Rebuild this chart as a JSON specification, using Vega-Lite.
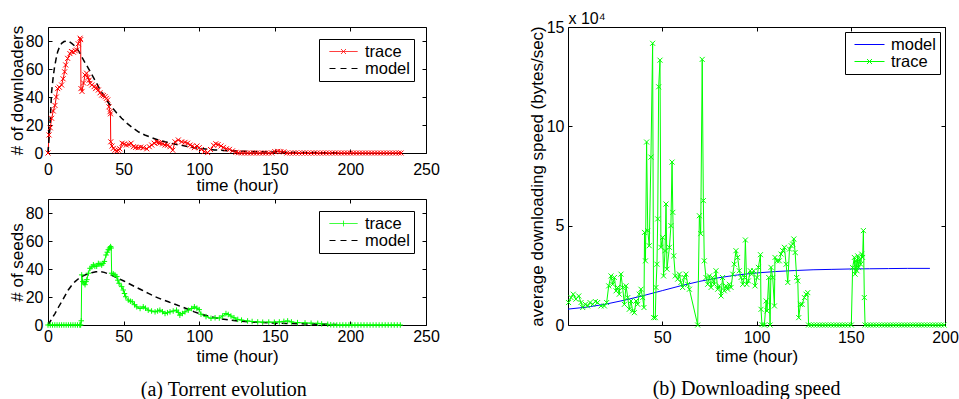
{
"$schema": "https://vega.github.io/schema/vega-lite/v6.json",
"background": "white",
"padding": {"left": 7, "top": 10, "right": 0, "bottom": 0},
"datasets": {
"down": [
{"t":0,"v":0,"s":"trace"},{"t":0.7,"v":12.9,"s":"trace"},{"t":1.5,"v":18,"s":"trace"},{"t":2.4,"v":24.8,"s":"trace"},{"t":3.5,"v":30,"s":"trace"},{"t":4.6,"v":34,"s":"trace"},{"t":5.5,"v":40,"s":"trace"},{"t":6.4,"v":46,"s":"trace"},{"t":7.5,"v":47,"s":"trace"},{"t":9,"v":48.6,"s":"trace"},{"t":10,"v":53,"s":"trace"},{"t":11,"v":58,"s":"trace"},{"t":11.7,"v":62.9,"s":"trace"},{"t":13,"v":67.6,"s":"trace"},{"t":14.5,"v":71,"s":"trace"},{"t":15.5,"v":72.5,"s":"trace"},{"t":16.8,"v":72,"s":"trace"},{"t":18,"v":73,"s":"trace"},{"t":19,"v":73.6,"s":"trace"},{"t":20,"v":78,"s":"trace"},{"t":21.2,"v":82,"s":"trace"},{"t":21.6,"v":81,"s":"trace"},{"t":21.8,"v":46,"s":"trace"},{"t":22.5,"v":44,"s":"trace"},{"t":23.5,"v":50,"s":"trace"},{"t":24.5,"v":55.7,"s":"trace"},{"t":25.5,"v":57,"s":"trace"},{"t":26.5,"v":54,"s":"trace"},{"t":27.2,"v":52,"s":"trace"},{"t":27.8,"v":49.8,"s":"trace"},{"t":29,"v":48.6,"s":"trace"},{"t":30.5,"v":47.4,"s":"trace"},{"t":31.5,"v":46,"s":"trace"},{"t":32.2,"v":47,"s":"trace"},{"t":33.3,"v":45,"s":"trace"},{"t":34.4,"v":43,"s":"trace"},{"t":35.5,"v":41.4,"s":"trace"},{"t":36.6,"v":41,"s":"trace"},{"t":37.7,"v":40.2,"s":"trace"},{"t":38.6,"v":39,"s":"trace"},{"t":39.5,"v":37.9,"s":"trace"},{"t":40.3,"v":33,"s":"trace"},{"t":41,"v":29.5,"s":"trace"},{"t":41.3,"v":28,"s":"trace"},{"t":41.5,"v":8,"s":"trace"},{"t":42.3,"v":5,"s":"trace"},{"t":43.2,"v":3.3,"s":"trace"},{"t":44.3,"v":2,"s":"trace"},{"t":45.5,"v":1.4,"s":"trace"},{"t":46.5,"v":2,"s":"trace"},{"t":47.5,"v":3,"s":"trace"},{"t":49,"v":7,"s":"trace"},{"t":50.5,"v":6.5,"s":"trace"},{"t":51.8,"v":5.7,"s":"trace"},{"t":53.5,"v":6,"s":"trace"},{"t":55,"v":7,"s":"trace"},{"t":56.5,"v":4.5,"s":"trace"},{"t":58,"v":4,"s":"trace"},{"t":59.7,"v":3.8,"s":"trace"},{"t":61.3,"v":4.2,"s":"trace"},{"t":63,"v":3.8,"s":"trace"},{"t":65.3,"v":3,"s":"trace"},{"t":67,"v":4.5,"s":"trace"},{"t":68.6,"v":5.7,"s":"trace"},{"t":70.2,"v":7,"s":"trace"},{"t":71.9,"v":8,"s":"trace"},{"t":73,"v":7.5,"s":"trace"},{"t":74,"v":7,"s":"trace"},{"t":75.8,"v":6.5,"s":"trace"},{"t":77.4,"v":5.7,"s":"trace"},{"t":79,"v":5.5,"s":"trace"},{"t":80.7,"v":4.5,"s":"trace"},{"t":82.5,"v":2,"s":"trace"},{"t":84,"v":8,"s":"trace"},{"t":86.2,"v":9.3,"s":"trace"},{"t":88.4,"v":8,"s":"trace"},{"t":90.6,"v":7.6,"s":"trace"},{"t":92.3,"v":7,"s":"trace"},{"t":94,"v":5.7,"s":"trace"},{"t":95.5,"v":5,"s":"trace"},{"t":96.8,"v":3.8,"s":"trace"},{"t":98.5,"v":5,"s":"trace"},{"t":100,"v":3.8,"s":"trace"},{"t":101.5,"v":2.5,"s":"trace"},{"t":103.4,"v":1,"s":"trace"},{"t":105.6,"v":0.3,"s":"trace"},{"t":107.5,"v":2.5,"s":"trace"},{"t":109.5,"v":5.5,"s":"trace"},{"t":111,"v":6.6,"s":"trace"},{"t":112.5,"v":6,"s":"trace"},{"t":114.4,"v":5,"s":"trace"},{"t":116,"v":4,"s":"trace"},{"t":118,"v":3,"s":"trace"},{"t":120,"v":2.6,"s":"trace"},{"t":122,"v":1.5,"s":"trace"},{"t":124.3,"v":0.5,"s":"trace"},{"t":126,"v":0.2,"s":"trace"},
{"t":128,"v":0,"s":"trace"},{"t":130,"v":0,"s":"trace"},{"t":132,"v":0,"s":"trace"},{"t":134,"v":0,"s":"trace"},{"t":136,"v":0,"s":"trace"},{"t":138,"v":0,"s":"trace"},{"t":140,"v":0,"s":"trace"},{"t":142,"v":0,"s":"trace"},{"t":144,"v":0,"s":"trace"},{"t":146,"v":0,"s":"trace"},{"t":148,"v":0,"s":"trace"},{"t":150,"v":1,"s":"trace"},{"t":152,"v":1.2,"s":"trace"},{"t":154,"v":1,"s":"trace"},{"t":156,"v":0.8,"s":"trace"},{"t":158,"v":0,"s":"trace"},{"t":160,"v":0,"s":"trace"},{"t":162,"v":0,"s":"trace"},{"t":164,"v":0,"s":"trace"},{"t":166,"v":0,"s":"trace"},{"t":168,"v":0,"s":"trace"},{"t":170,"v":0,"s":"trace"},{"t":172,"v":0,"s":"trace"},{"t":174,"v":0,"s":"trace"},{"t":176,"v":0,"s":"trace"},{"t":178,"v":0,"s":"trace"},{"t":180,"v":0,"s":"trace"},{"t":182,"v":0,"s":"trace"},{"t":184,"v":0,"s":"trace"},{"t":186,"v":0,"s":"trace"},{"t":188,"v":0,"s":"trace"},{"t":190,"v":0,"s":"trace"},{"t":192,"v":0,"s":"trace"},{"t":194,"v":0,"s":"trace"},{"t":196,"v":0,"s":"trace"},{"t":198,"v":0,"s":"trace"},{"t":200,"v":0,"s":"trace"},{"t":202,"v":0,"s":"trace"},{"t":204,"v":0,"s":"trace"},{"t":206,"v":0,"s":"trace"},{"t":208,"v":0,"s":"trace"},{"t":210,"v":0,"s":"trace"},{"t":212,"v":0,"s":"trace"},{"t":214,"v":0,"s":"trace"},{"t":216,"v":0,"s":"trace"},{"t":218,"v":0,"s":"trace"},{"t":220,"v":0,"s":"trace"},{"t":222,"v":0,"s":"trace"},{"t":224,"v":0,"s":"trace"},{"t":226,"v":0,"s":"trace"},{"t":228,"v":0,"s":"trace"},{"t":230,"v":0,"s":"trace"},{"t":232,"v":0,"s":"trace"},{"t":233.5,"v":0,"s":"trace"},
{"t":0,"v":0,"s":"model"},{"t":1.3,"v":20,"s":"model"},{"t":2.4,"v":43.8,"s":"model"},{"t":3.3,"v":53,"s":"model"},{"t":4.2,"v":60.5,"s":"model"},{"t":5.3,"v":67,"s":"model"},{"t":6.4,"v":72.4,"s":"model"},{"t":7.7,"v":76,"s":"model"},{"t":9,"v":78.3,"s":"model"},{"t":10.6,"v":79.6,"s":"model"},{"t":12.3,"v":80,"s":"model"},{"t":14,"v":79.5,"s":"model"},{"t":15.7,"v":78.3,"s":"model"},{"t":17.3,"v":76.8,"s":"model"},{"t":19,"v":74.8,"s":"model"},{"t":20.7,"v":72,"s":"model"},{"t":22.3,"v":68.8,"s":"model"},{"t":24.5,"v":64.5,"s":"model"},{"t":26.7,"v":60.5,"s":"model"},{"t":29,"v":56,"s":"model"},{"t":31,"v":52,"s":"model"},{"t":33.8,"v":46.5,"s":"model"},{"t":36.6,"v":41.4,"s":"model"},{"t":39.3,"v":37,"s":"model"},{"t":42,"v":33,"s":"model"},{"t":45.3,"v":28.8,"s":"model"},{"t":48.7,"v":24.8,"s":"model"},{"t":52.5,"v":21,"s":"model"},{"t":56.4,"v":17.6,"s":"model"},{"t":60,"v":15,"s":"model"},{"t":64,"v":12.9,"s":"model"},{"t":68.5,"v":11,"s":"model"},{"t":73,"v":9.3,"s":"model"},{"t":77.5,"v":8,"s":"model"},{"t":81.8,"v":6.9,"s":"model"},{"t":86,"v":5.9,"s":"model"},{"t":90.6,"v":5,"s":"model"},{"t":96.8,"v":3.8,"s":"model"},{"t":100,"v":3.3,"s":"model"},{"t":110,"v":2.2,"s":"model"},{"t":120,"v":1.6,"s":"model"},{"t":130,"v":1.2,"s":"model"},{"t":140,"v":0.9,"s":"model"},{"t":150,"v":0.7,"s":"model"},{"t":160,"v":0.5,"s":"model"},{"t":170,"v":0.35,"s":"model"},{"t":180,"v":0.25,"s":"model"},{"t":191,"v":0.15,"s":"model"}
],
"seeds": [
{"t":0,"v":0,"s":"trace"},{"t":1.5,"v":0,"s":"trace"},{"t":3,"v":0,"s":"trace"},{"t":4.5,"v":0,"s":"trace"},{"t":6,"v":0,"s":"trace"},{"t":7.5,"v":0,"s":"trace"},{"t":9,"v":0,"s":"trace"},{"t":10.5,"v":0,"s":"trace"},{"t":12,"v":0,"s":"trace"},{"t":13.5,"v":0,"s":"trace"},{"t":15,"v":0,"s":"trace"},{"t":16.5,"v":0,"s":"trace"},{"t":18,"v":0,"s":"trace"},{"t":19.5,"v":0,"s":"trace"},{"t":21,"v":0,"s":"trace"},{"t":21.6,"v":0,"s":"trace"},{"t":22,"v":3,"s":"trace"},{"t":22.3,"v":35.8,"s":"trace"},{"t":23,"v":31,"s":"trace"},{"t":23.8,"v":30,"s":"trace"},{"t":24.5,"v":28.8,"s":"trace"},{"t":25.2,"v":31,"s":"trace"},{"t":25.7,"v":32.4,"s":"trace"},{"t":26.7,"v":37,"s":"trace"},{"t":27.8,"v":40.5,"s":"trace"},{"t":29,"v":41.5,"s":"trace"},{"t":30,"v":43,"s":"trace"},{"t":31,"v":42,"s":"trace"},{"t":32.2,"v":42,"s":"trace"},{"t":33.3,"v":44,"s":"trace"},{"t":34.4,"v":43.5,"s":"trace"},{"t":35.5,"v":42.8,"s":"trace"},{"t":36.4,"v":44,"s":"trace"},{"t":37.3,"v":45.4,"s":"trace"},{"t":38.4,"v":50,"s":"trace"},{"t":39.2,"v":52,"s":"trace"},{"t":39.9,"v":53.8,"s":"trace"},{"t":40.7,"v":55,"s":"trace"},{"t":41.4,"v":56,"s":"trace"},{"t":41.8,"v":55,"s":"trace"},{"t":42.1,"v":37,"s":"trace"},{"t":43.2,"v":36.5,"s":"trace"},{"t":44.3,"v":35.8,"s":"trace"},{"t":45.5,"v":34.6,"s":"trace"},{"t":46.2,"v":32,"s":"trace"},{"t":47,"v":29.8,"s":"trace"},{"t":48.7,"v":27.4,"s":"trace"},{"t":49.8,"v":25,"s":"trace"},{"t":50.6,"v":22.5,"s":"trace"},{"t":51.4,"v":20.2,"s":"trace"},{"t":53.1,"v":17.8,"s":"trace"},{"t":54.5,"v":17,"s":"trace"},{"t":55.7,"v":16.6,"s":"trace"},{"t":57.2,"v":14.5,"s":"trace"},{"t":58.7,"v":13,"s":"trace"},{"t":60.9,"v":11.8,"s":"trace"},{"t":63,"v":13,"s":"trace"},{"t":64.5,"v":12,"s":"trace"},{"t":66.3,"v":10.6,"s":"trace"},{"t":68.5,"v":10,"s":"trace"},{"t":70.8,"v":9.4,"s":"trace"},{"t":72.5,"v":10,"s":"trace"},{"t":74,"v":10.6,"s":"trace"},{"t":75.7,"v":9.5,"s":"trace"},{"t":77.4,"v":8.2,"s":"trace"},{"t":79,"v":8.8,"s":"trace"},{"t":80.7,"v":9.4,"s":"trace"},{"t":82.8,"v":10,"s":"trace"},{"t":85,"v":10.6,"s":"trace"},{"t":86.2,"v":9,"s":"trace"},{"t":87.2,"v":7,"s":"trace"},{"t":88.9,"v":8.2,"s":"trace"},{"t":90.6,"v":9.4,"s":"trace"},{"t":92.8,"v":10.6,"s":"trace"},{"t":95,"v":11.8,"s":"trace"},{"t":96.8,"v":13,"s":"trace"},{"t":98.5,"v":12,"s":"trace"},{"t":100,"v":11,"s":"trace"},{"t":101.2,"v":7.7,"s":"trace"},{"t":104.5,"v":6,"s":"trace"},{"t":107.8,"v":4.8,"s":"trace"},{"t":110.5,"v":5.2,"s":"trace"},{"t":113.3,"v":5,"s":"trace"},{"t":115.5,"v":6.5,"s":"trace"},{"t":117.7,"v":8.2,"s":"trace"},{"t":119.2,"v":7.5,"s":"trace"},{"t":121,"v":6.4,"s":"trace"},{"t":123,"v":5.2,"s":"trace"},{"t":125.5,"v":4,"s":"trace"},{"t":128,"v":3.5,"s":"trace"},{"t":132,"v":2.9,"s":"trace"},{"t":135,"v":2.5,"s":"trace"},{"t":138.7,"v":2.2,"s":"trace"},{"t":142,"v":2,"s":"trace"},{"t":146,"v":2.1,"s":"trace"},{"t":149.7,"v":2,"s":"trace"},{"t":153,"v":2.2,"s":"trace"},{"t":156,"v":2.6,"s":"trace"},{"t":158.5,"v":2.9,"s":"trace"},{"t":161,"v":2.2,"s":"trace"},{"t":165,"v":1.7,"s":"trace"},{"t":170,"v":1.5,"s":"trace"},{"t":174,"v":1.3,"s":"trace"},{"t":178.4,"v":1.2,"s":"trace"},{"t":181,"v":0.8,"s":"trace"},{"t":185,"v":0.5,"s":"trace"},{"t":187,"v":0.2,"s":"trace"},
{"t":189,"v":0,"s":"trace"},{"t":191,"v":0,"s":"trace"},{"t":193,"v":0,"s":"trace"},{"t":195,"v":0,"s":"trace"},{"t":197,"v":0,"s":"trace"},{"t":199,"v":0,"s":"trace"},{"t":201,"v":0,"s":"trace"},{"t":203,"v":0,"s":"trace"},{"t":205,"v":0,"s":"trace"},{"t":207,"v":0,"s":"trace"},{"t":209,"v":0,"s":"trace"},{"t":211,"v":0,"s":"trace"},{"t":213,"v":0,"s":"trace"},{"t":215,"v":0,"s":"trace"},{"t":217,"v":0,"s":"trace"},{"t":219,"v":0,"s":"trace"},{"t":221,"v":0,"s":"trace"},{"t":223,"v":0,"s":"trace"},{"t":225,"v":0,"s":"trace"},{"t":227,"v":0,"s":"trace"},{"t":229,"v":0,"s":"trace"},{"t":231,"v":0,"s":"trace"},{"t":233,"v":0,"s":"trace"},
{"t":0,"v":0,"s":"model"},{"t":2.3,"v":4,"s":"model"},{"t":4.6,"v":8.2,"s":"model"},{"t":6.8,"v":12.5,"s":"model"},{"t":9,"v":16.6,"s":"model"},{"t":11.2,"v":20.8,"s":"model"},{"t":13.4,"v":25,"s":"model"},{"t":15.6,"v":28.2,"s":"model"},{"t":17.9,"v":31,"s":"model"},{"t":20.1,"v":33,"s":"model"},{"t":22.3,"v":34.6,"s":"model"},{"t":25.6,"v":36.2,"s":"model"},{"t":28.9,"v":37.4,"s":"model"},{"t":31.7,"v":38,"s":"model"},{"t":34.4,"v":38.2,"s":"model"},{"t":37.2,"v":37.6,"s":"model"},{"t":39.9,"v":36.5,"s":"model"},{"t":43.2,"v":35,"s":"model"},{"t":46.5,"v":33.3,"s":"model"},{"t":49.8,"v":31.6,"s":"model"},{"t":53.1,"v":29.8,"s":"model"},{"t":57.5,"v":27.4,"s":"model"},{"t":62,"v":25,"s":"model"},{"t":66.4,"v":22.6,"s":"model"},{"t":70.8,"v":20.2,"s":"model"},{"t":75.2,"v":18.3,"s":"model"},{"t":79.6,"v":16.6,"s":"model"},{"t":84,"v":14.8,"s":"model"},{"t":88.4,"v":13,"s":"model"},{"t":92.6,"v":11.2,"s":"model"},{"t":96.8,"v":9.4,"s":"model"},{"t":99,"v":8.6,"s":"model"},{"t":103.4,"v":7.2,"s":"model"},{"t":107.8,"v":5.8,"s":"model"},{"t":114.4,"v":4.4,"s":"model"},{"t":121,"v":3.4,"s":"model"},{"t":127.5,"v":2.7,"s":"model"},{"t":134,"v":2.2,"s":"model"},{"t":142,"v":1.8,"s":"model"},{"t":149.7,"v":1.4,"s":"model"},{"t":158,"v":1.1,"s":"model"},{"t":165,"v":0.9,"s":"model"},{"t":174,"v":0.7,"s":"model"},{"t":182,"v":0.5,"s":"model"},{"t":191,"v":0.4,"s":"model"}
],
"speed": [
{"t":0,"v":8000,"s":"model"},{"t":10,"v":9000,"s":"model"},{"t":20,"v":10500,"s":"model"},{"t":30,"v":12500,"s":"model"},{"t":40,"v":14800,"s":"model"},{"t":50,"v":17300,"s":"model"},{"t":60,"v":19800,"s":"model"},{"t":70,"v":22000,"s":"model"},{"t":80,"v":23800,"s":"model"},{"t":90,"v":25200,"s":"model"},{"t":100,"v":26200,"s":"model"},{"t":110,"v":26900,"s":"model"},{"t":120,"v":27400,"s":"model"},{"t":130,"v":27800,"s":"model"},{"t":140,"v":28000,"s":"model"},{"t":150,"v":28200,"s":"model"},{"t":160,"v":28300,"s":"model"},{"t":170,"v":28400,"s":"model"},{"t":180,"v":28500,"s":"model"},{"t":192,"v":28500,"s":"model"},
{"t":0.3,"v":11300,"s":"trace"},{"t":1.6,"v":13800,"s":"trace"},{"t":2.8,"v":15500,"s":"trace"},{"t":4.2,"v":13000,"s":"trace"},{"t":5.7,"v":14600,"s":"trace"},{"t":6.9,"v":11300,"s":"trace"},{"t":7.8,"v":8800,"s":"trace"},{"t":9.2,"v":10400,"s":"trace"},{"t":10.4,"v":9600,"s":"trace"},{"t":11.7,"v":11300,"s":"trace"},{"t":13.1,"v":10400,"s":"trace"},{"t":14.5,"v":11800,"s":"trace"},{"t":15.7,"v":11300,"s":"trace"},{"t":17.5,"v":9600,"s":"trace"},{"t":19.3,"v":9600,"s":"trace"},{"t":20.5,"v":11300,"s":"trace"},{"t":21.6,"v":19700,"s":"trace"},{"t":22.8,"v":24700,"s":"trace"},{"t":23.7,"v":20500,"s":"trace"},{"t":24.6,"v":23900,"s":"trace"},{"t":25.5,"v":17200,"s":"trace"},{"t":26.3,"v":18900,"s":"trace"},{"t":27.2,"v":15500,"s":"trace"},{"t":28.1,"v":25600,"s":"trace"},{"t":29,"v":18900,"s":"trace"},{"t":29.9,"v":10400,"s":"trace"},{"t":30.8,"v":19700,"s":"trace"},{"t":31.7,"v":13800,"s":"trace"},{"t":32.5,"v":7900,"s":"trace"},{"t":33.4,"v":12100,"s":"trace"},{"t":34.3,"v":7100,"s":"trace"},{"t":35.2,"v":6200,"s":"trace"},{"t":36.1,"v":12100,"s":"trace"},{"t":37,"v":10400,"s":"trace"},{"t":37.8,"v":15500,"s":"trace"},{"t":38.7,"v":18000,"s":"trace"},{"t":39.6,"v":13800,"s":"trace"},{"t":40.3,"v":8800,"s":"trace"},{"t":40.6,"v":46600,"s":"trace"},{"t":41.1,"v":32300,"s":"trace"},{"t":41.7,"v":92100,"s":"trace"},{"t":42.3,"v":47500,"s":"trace"},{"t":43.1,"v":39900,"s":"trace"},{"t":44,"v":84500,"s":"trace"},{"t":44.9,"v":141800,"s":"trace"},{"t":45.4,"v":3700,"s":"trace"},{"t":46.3,"v":3700,"s":"trace"},{"t":46.7,"v":18900,"s":"trace"},{"t":47.2,"v":30600,"s":"trace"},{"t":47.6,"v":53400,"s":"trace"},{"t":48.1,"v":119900,"s":"trace"},{"t":48.8,"v":133300,"s":"trace"},{"t":49.3,"v":39100,"s":"trace"},{"t":50.2,"v":44100,"s":"trace"},{"t":50.7,"v":24700,"s":"trace"},{"t":51.5,"v":37400,"s":"trace"},{"t":52,"v":60900,"s":"trace"},{"t":52.5,"v":28100,"s":"trace"},{"t":53.8,"v":39100,"s":"trace"},{"t":54.6,"v":50000,"s":"trace"},{"t":55.2,"v":82000,"s":"trace"},{"t":55.6,"v":56700,"s":"trace"},{"t":56.1,"v":34800,"s":"trace"},{"t":56.9,"v":24700,"s":"trace"},{"t":58.2,"v":23100,"s":"trace"},{"t":59.1,"v":25600,"s":"trace"},{"t":59.9,"v":21400,"s":"trace"},{"t":60.8,"v":18900,"s":"trace"},{"t":61.7,"v":23900,"s":"trace"},{"t":62.6,"v":25600,"s":"trace"},{"t":63.5,"v":20500,"s":"trace"},{"t":64.4,"v":18000,"s":"trace"},{"t":68.8,"v":0,"s":"trace"},{"t":69.7,"v":55000,"s":"trace"},{"t":70.4,"v":46000,"s":"trace"},{"t":71.2,"v":133700,"s":"trace"},{"t":71.8,"v":62600,"s":"trace"},{"t":72.3,"v":32300,"s":"trace"},{"t":73.2,"v":23900,"s":"trace"},{"t":74.1,"v":20500,"s":"trace"},{"t":75,"v":24700,"s":"trace"},{"t":75.9,"v":18900,"s":"trace"},{"t":76.7,"v":23900,"s":"trace"},{"t":77.6,"v":20500,"s":"trace"},{"t":78.5,"v":27300,"s":"trace"},{"t":79.4,"v":18000,"s":"trace"},{"t":80.3,"v":19700,"s":"trace"},{"t":81.2,"v":14600,"s":"trace"},{"t":82,"v":23900,"s":"trace"},{"t":82.9,"v":17200,"s":"trace"},{"t":83.8,"v":19700,"s":"trace"},{"t":84.7,"v":18000,"s":"trace"},{"t":85.6,"v":20500,"s":"trace"},{"t":86.5,"v":18900,"s":"trace"},{"t":87.4,"v":25600,"s":"trace"},{"t":88.2,"v":30600,"s":"trace"},{"t":89.1,"v":37400,"s":"trace"},{"t":90,"v":34000,"s":"trace"},{"t":90.9,"v":27300,"s":"trace"},{"t":91.8,"v":23900,"s":"trace"},{"t":92.7,"v":20500,"s":"trace"},{"t":93.6,"v":23900,"s":"trace"},{"t":94.1,"v":42800,"s":"trace"},{"t":94.8,"v":20500,"s":"trace"},{"t":95.7,"v":22200,"s":"trace"},{"t":96.7,"v":27300,"s":"trace"},{"t":97.4,"v":25600,"s":"trace"},{"t":98.5,"v":27300,"s":"trace"},{"t":99.2,"v":19700,"s":"trace"},{"t":100.3,"v":23900,"s":"trace"},{"t":101,"v":29000,"s":"trace"},{"t":102.1,"v":35400,"s":"trace"},{"t":102.4,"v":7900,"s":"trace"},{"t":102.9,"v":200,"s":"trace"},{"t":104.2,"v":0,"s":"trace"},{"t":105.1,"v":12100,"s":"trace"},{"t":105.6,"v":7100,"s":"trace"},{"t":106.5,"v":23900,"s":"trace"},{"t":107.2,"v":0,"s":"trace"},{"t":107.7,"v":29000,"s":"trace"},{"t":108.6,"v":23900,"s":"trace"},{"t":109.5,"v":9600,"s":"trace"},{"t":109.8,"v":34000,"s":"trace"},{"t":110.9,"v":32300,"s":"trace"},{"t":112.1,"v":32300,"s":"trace"},{"t":113,"v":35700,"s":"trace"},{"t":113.9,"v":37400,"s":"trace"},{"t":114.8,"v":39100,"s":"trace"},{"t":115.7,"v":30600,"s":"trace"},{"t":116.6,"v":21400,"s":"trace"},{"t":117.5,"v":38200,"s":"trace"},{"t":118.4,"v":39900,"s":"trace"},{"t":119.2,"v":40700,"s":"trace"},{"t":119.8,"v":43300,"s":"trace"},{"t":120.5,"v":36500,"s":"trace"},{"t":121.3,"v":23900,"s":"trace"},{"t":121.9,"v":22200,"s":"trace"},{"t":122.4,"v":3700,"s":"trace"},{"t":123.3,"v":10400,"s":"trace"},{"t":124.2,"v":10400,"s":"trace"},{"t":125.4,"v":13800,"s":"trace"},{"t":126.3,"v":15500,"s":"trace"},{"t":127.2,"v":16300,"s":"trace"},{"t":127.6,"v":0,"s":"trace"},
{"t":129,"v":0,"s":"trace"},{"t":130.5,"v":0,"s":"trace"},{"t":132,"v":0,"s":"trace"},{"t":133.5,"v":0,"s":"trace"},{"t":135,"v":0,"s":"trace"},{"t":136.5,"v":0,"s":"trace"},{"t":138,"v":0,"s":"trace"},{"t":139.5,"v":0,"s":"trace"},{"t":141,"v":0,"s":"trace"},{"t":142.5,"v":0,"s":"trace"},{"t":144,"v":0,"s":"trace"},{"t":145.5,"v":0,"s":"trace"},{"t":147,"v":0,"s":"trace"},{"t":148.5,"v":0,"s":"trace"},{"t":150.3,"v":0,"s":"trace"},
{"t":151,"v":28900,"s":"trace"},{"t":151.9,"v":34000,"s":"trace"},{"t":152.3,"v":25600,"s":"trace"},{"t":152.8,"v":32300,"s":"trace"},{"t":153.3,"v":27300,"s":"trace"},{"t":153.7,"v":34800,"s":"trace"},{"t":154.2,"v":28900,"s":"trace"},{"t":154.7,"v":33100,"s":"trace"},{"t":155.3,"v":30600,"s":"trace"},{"t":155.8,"v":35700,"s":"trace"},{"t":156.3,"v":34000,"s":"trace"},{"t":156.7,"v":47500,"s":"trace"},{"t":157.2,"v":13800,"s":"trace"},{"t":157.6,"v":0,"s":"trace"},
{"t":159,"v":0,"s":"trace"},{"t":160.5,"v":0,"s":"trace"},{"t":162,"v":0,"s":"trace"},{"t":163.5,"v":0,"s":"trace"},{"t":165,"v":0,"s":"trace"},{"t":166.5,"v":0,"s":"trace"},{"t":168,"v":0,"s":"trace"},{"t":169.5,"v":0,"s":"trace"},{"t":171,"v":0,"s":"trace"},{"t":172.5,"v":0,"s":"trace"},{"t":174,"v":0,"s":"trace"},{"t":175.5,"v":0,"s":"trace"},{"t":177,"v":0,"s":"trace"},{"t":178.5,"v":0,"s":"trace"},{"t":180,"v":0,"s":"trace"},{"t":181.5,"v":0,"s":"trace"},{"t":183,"v":0,"s":"trace"},{"t":184.5,"v":0,"s":"trace"},{"t":186,"v":0,"s":"trace"},{"t":187.5,"v":0,"s":"trace"},{"t":189,"v":0,"s":"trace"},{"t":190.5,"v":0,"s":"trace"},{"t":192,"v":0,"s":"trace"},{"t":193.5,"v":0,"s":"trace"},{"t":195,"v":0,"s":"trace"},{"t":196.5,"v":0,"s":"trace"},{"t":198,"v":0,"s":"trace"},{"t":199.5,"v":0,"s":"trace"}
]
},
"hconcat": [
{
"vconcat": [
{
"width": 378, "height": 126,
"data": {"name": "down"},
"layer": [
{"transform": [{"filter": "datum.s === 'trace'"}],
 "mark": {"type": "line", "strokeWidth": 1},
 "encoding": {
  "x": {"field": "t", "type": "quantitative", "scale": {"domain": [0, 250], "nice": false, "zero": false}, "axis": {"values": [0, 50, 100, 150, 200, 250], "title": "time (hour)", "labelPadding": 12, "titlePadding": 0}},
  "y": {"field": "v", "type": "quantitative", "scale": {"domain": [0, 90], "nice": false}, "axis": {"values": [0, 20, 40, 60, 80], "title": "# of downloaders", "labelPadding": 9, "titlePadding": -1}},
  "color": {"field": "s", "type": "nominal", "scale": {"domain": ["trace", "model"], "range": ["#ff0000", "#000000"]},
   "legend": {"title": null, "orient": "top-right", "offset": 12, "padding": 4, "strokeColor": "black", "fillColor": "white", "labelFontSize": 16.5, "labelColor": "black", "symbolSize": 256, "symbolOffset": 12, "labelOffset": 13, "rowPadding": 0, "symbolStrokeWidth": 1, "symbolFillColor": "transparent",
    "encode": {"symbols": {"update": {"shape": {"signal": "datum.value === 'trace' ? 'M-1.75,0L1.75,0M-0.31,-0.31L0.31,0.31M-0.31,0.31L0.31,-0.31' : 'M-1.75,0L1.75,0'"}, "strokeDash": {"signal": "datum.value === 'model' ? [6,5] : [1,0]"}}}}}}
 }},
{"transform": [{"filter": "datum.s === 'model'"}],
 "mark": {"type": "line", "strokeWidth": 1.5, "strokeDash": [6, 4]},
 "encoding": {
  "x": {"field": "t", "type": "quantitative", "axis": null},
  "y": {"field": "v", "type": "quantitative", "axis": null},
  "color": {"field": "s", "type": "nominal"}
 }},
{"transform": [{"filter": "datum.s === 'trace'"}],
 "mark": {"type": "point", "shape": "M-1,-1L1,1M-1,1L1,-1", "filled": false, "color": "#ff0000", "strokeWidth": 1, "size": 25, "opacity": 1},
 "encoding": {
  "x": {"field": "t", "type": "quantitative", "axis": {"orient": "top", "labels": false, "title": null, "values": [0, 50, 100, 150, 200, 250]}},
  "y": {"field": "v", "type": "quantitative", "axis": {"orient": "right", "labels": false, "title": null, "values": [0, 20, 40, 60, 80]}}
 }}
],
"resolve": {"axis": {"x": "independent", "y": "independent"}}
},
{
"width": 378, "height": 126,
"data": {"name": "seeds"},
"layer": [
{"transform": [{"filter": "datum.s === 'trace'"}],
 "mark": {"type": "line", "strokeWidth": 1},
 "encoding": {
  "x": {"field": "t", "type": "quantitative", "scale": {"domain": [0, 250], "nice": false, "zero": false}, "axis": {"values": [0, 50, 100, 150, 200, 250], "title": "time (hour)", "labelPadding": 7, "titlePadding": 4}},
  "y": {"field": "v", "type": "quantitative", "scale": {"domain": [0, 90], "nice": false}, "axis": {"values": [0, 20, 40, 60, 80], "title": "# of seeds", "labelPadding": 9, "titlePadding": -1}},
  "color": {"field": "s", "type": "nominal", "scale": {"domain": ["trace", "model"], "range": ["#00ff00", "#000000"]},
   "legend": {"title": null, "orient": "top-right", "offset": 12, "padding": 4, "strokeColor": "black", "fillColor": "white", "labelFontSize": 16.5, "labelColor": "black", "symbolSize": 256, "symbolOffset": 12, "labelOffset": 13, "rowPadding": 0, "symbolStrokeWidth": 1, "symbolFillColor": "transparent",
    "encode": {"symbols": {"update": {"shape": {"signal": "datum.value === 'trace' ? 'M-1.75,0L1.75,0M0,-0.35L0,0.35' : 'M-1.75,0L1.75,0'"}, "strokeDash": {"signal": "datum.value === 'model' ? [6,5] : [1,0]"}}}}}}
 }},
{"transform": [{"filter": "datum.s === 'model'"}],
 "mark": {"type": "line", "strokeWidth": 1.5, "strokeDash": [6, 4]},
 "encoding": {
  "x": {"field": "t", "type": "quantitative", "axis": null},
  "y": {"field": "v", "type": "quantitative", "axis": null},
  "color": {"field": "s", "type": "nominal"}
 }},
{"transform": [{"filter": "datum.s === 'trace'"}],
 "mark": {"type": "point", "shape": "M-1,0L1,0M0,-1L0,1", "filled": false, "color": "#00ff00", "strokeWidth": 1, "size": 30, "opacity": 1},
 "encoding": {
  "x": {"field": "t", "type": "quantitative", "axis": {"orient": "top", "labels": false, "title": null, "values": [0, 50, 100, 150, 200, 250]}},
  "y": {"field": "v", "type": "quantitative", "axis": {"orient": "right", "labels": false, "title": null, "values": [0, 20, 40, 60, 80]}}
 }}
],
"resolve": {"axis": {"x": "independent", "y": "independent"}}
}
],
"spacing": 46,
"bounds": "flush",
"resolve": {"scale": {"color": "independent"}, "legend": {"color": "independent"}},
"title": {"text": "(a) Torrent evolution", "orient": "bottom", "anchor": "middle", "font": "Liberation Serif", "fontSize": 20, "fontWeight": "normal", "color": "black", "offset": 15, "dx": 0}
},
{
"width": 377, "height": 298,
"data": {"name": "speed"},
"title": {"text": "(b) Downloading speed", "orient": "bottom", "anchor": "middle", "font": "Liberation Serif", "fontSize": 20, "fontWeight": "normal", "color": "black", "offset": 15, "dx": -10},
"layer": [
{"transform": [{"filter": "datum.s === 'model'"}],
 "mark": {"type": "line", "strokeWidth": 1},
 "encoding": {
  "x": {"field": "t", "type": "quantitative", "scale": {"domain": [0, 200], "nice": false, "zero": false}, "axis": {"values": [50, 100, 150, 200], "title": "time (hour)", "labelPadding": 8, "titlePadding": 3}},
  "y": {"field": "v", "type": "quantitative", "scale": {"domain": [0, 150000], "nice": false}, "axis": {"values": [0, 50000, 100000, 150000], "labelExpr": "format(datum.value / 10000, 'd')", "title": "average downloading speed (bytes/sec)", "labelPadding": 8, "titlePadding": 0}},
  "color": {"field": "s", "type": "nominal", "scale": {"domain": ["model", "trace"], "range": ["#0000ff", "#00ff00"]},
   "legend": {"title": null, "orient": "top-right", "offset": 5, "padding": 4, "strokeColor": "black", "fillColor": "white", "labelFontSize": 16.5, "labelColor": "black", "symbolSize": 256, "symbolOffset": 12, "labelOffset": 13, "rowPadding": 0, "symbolStrokeWidth": 1, "symbolFillColor": "transparent",
    "encode": {"symbols": {"update": {"shape": {"signal": "datum.value === 'trace' ? 'M-1.875,0L1.875,0M-0.31,-0.31L0.31,0.31M-0.31,0.31L0.31,-0.31' : 'M-1.875,0L1.875,0'"}}}}}}
 }},
{"transform": [{"filter": "datum.s === 'trace'"}],
 "mark": {"type": "line", "strokeWidth": 1},
 "encoding": {
  "x": {"field": "t", "type": "quantitative", "axis": null},
  "y": {"field": "v", "type": "quantitative", "axis": null},
  "color": {"field": "s", "type": "nominal"}
 }},
{"transform": [{"filter": "datum.s === 'trace'"}],
 "mark": {"type": "point", "shape": "M-1,-1L1,1M-1,1L1,-1", "filled": false, "color": "#00ff00", "strokeWidth": 1, "size": 25, "opacity": 1},
 "encoding": {
  "x": {"field": "t", "type": "quantitative", "axis": {"orient": "top", "labels": false, "values": [50, 100, 150, 200], "title": "x 10⁴", "titleAnchor": "start", "titleAlign": "left", "titleBaseline": "alphabetic", "titleAngle": 0, "titlePadding": 3, "titleFontSize": 16}},
  "y": {"field": "v", "type": "quantitative", "axis": {"orient": "right", "labels": false, "title": null, "values": [0, 50000, 100000, 150000]}}
 }}
],
"resolve": {"axis": {"x": "independent", "y": "independent"}}
}
],
"spacing": 520,
"bounds": "flush",
"resolve": {"scale": {"color": "independent"}, "legend": {"color": "independent"}},
"config": {
 "view": {"stroke": "black", "strokeWidth": 1},
 "font": "Liberation Sans",
 "axis": {"grid": false, "domain": false, "tickColor": "black", "tickSize": -4, "tickWidth": 1, "labelColor": "black", "labelFont": "Liberation Sans", "labelFontSize": 16, "labelPadding": 5, "labelFlush": false, "labelOverlap": false, "labelBound": false, "titleFont": "Liberation Sans", "titleFontSize": 17, "titleFontWeight": "normal", "titleColor": "black", "titlePadding": 3},
 "legend": {"labelFont": "Liberation Sans"}
}
}
